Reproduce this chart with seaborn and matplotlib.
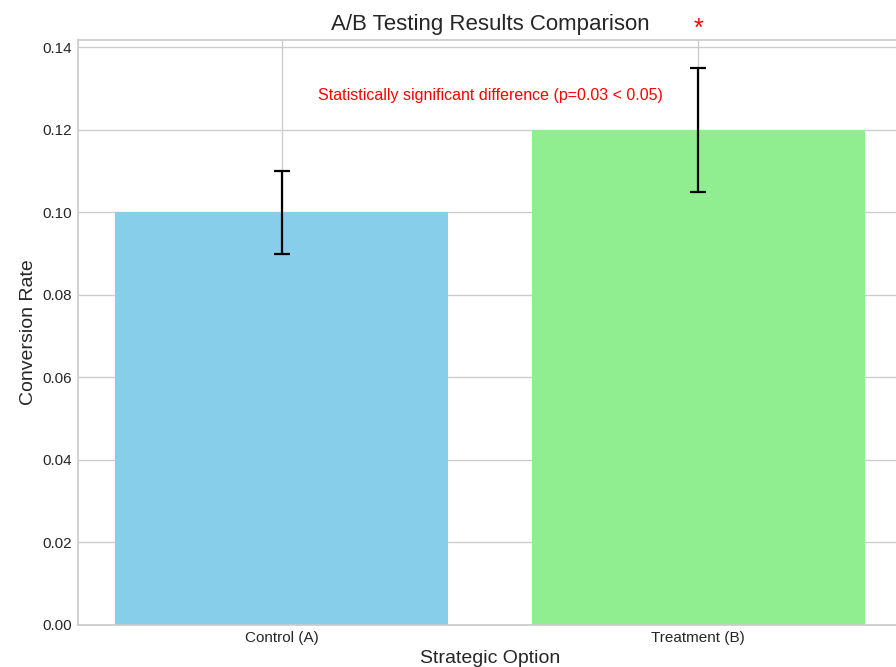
import matplotlib
matplotlib.use("Agg")
import matplotlib.pyplot as plt
import seaborn as sns
import pandas as pd

# A/B test summary
groups = ["Control (A)", "Treatment (B)"]
conversion_rates = [0.10, 0.12]
rate_errors = [0.01, 0.015]
bar_colors = ["skyblue", "lightgreen"]
p_value = 0.03
alpha = 0.05

sns.set_theme(style="whitegrid")
plt.rcParams["font.family"] = ["Liberation Sans", "DejaVu Sans"]

df = pd.DataFrame({"Strategic Option": groups, "Conversion Rate": conversion_rates})

fig = plt.figure(figsize=(8.96, 6.67), dpi=100)
ax = fig.add_axes([78 / 896, 42 / 667, 824 / 896, 585 / 667])

sns.barplot(data=df, x="Strategic Option", y="Conversion Rate", hue="Strategic Option",
            palette=bar_colors, errorbar=None, width=0.8, saturation=1,
            linewidth=0, legend=False, ax=ax)
ax.errorbar(range(len(groups)), conversion_rates, yerr=rate_errors, fmt="none",
            ecolor="black", elinewidth=1.6, capsize=6, capthick=1.6)

ax.set_xlim(-0.49, 1.49)
ax.xaxis.grid(True)
ax.set_axisbelow(True)
ax.set_ylim(0, (conversion_rates[1] + rate_errors[1]) * 1.05)
ax.set_yticks([0.0, 0.02, 0.04, 0.06, 0.08, 0.10, 0.12, 0.14])
ax.yaxis.set_major_formatter(matplotlib.ticker.FormatStrFormatter("%.2f"))

ax.set_title("A/B Testing Results Comparison", fontsize=16, pad=7.5)
ax.set_xlabel("Strategic Option", fontsize=14, labelpad=4)
ax.set_ylabel("Conversion Rate", fontsize=14, labelpad=4)
ax.tick_params(axis="both", labelsize=11, length=0, pad=4)

if p_value < alpha:
    top = conversion_rates[1] + rate_errors[1]
    ax.text(1, top + 0.0095, "*", color="red", fontsize=18, ha="center", va="center")
    ax.text(0.5, 0.1283,
            f"Statistically significant difference (p={p_value} < {alpha})",
            color="red", fontsize=11.5, ha="center", va="center")

fig.savefig("out.png", dpi=100)
